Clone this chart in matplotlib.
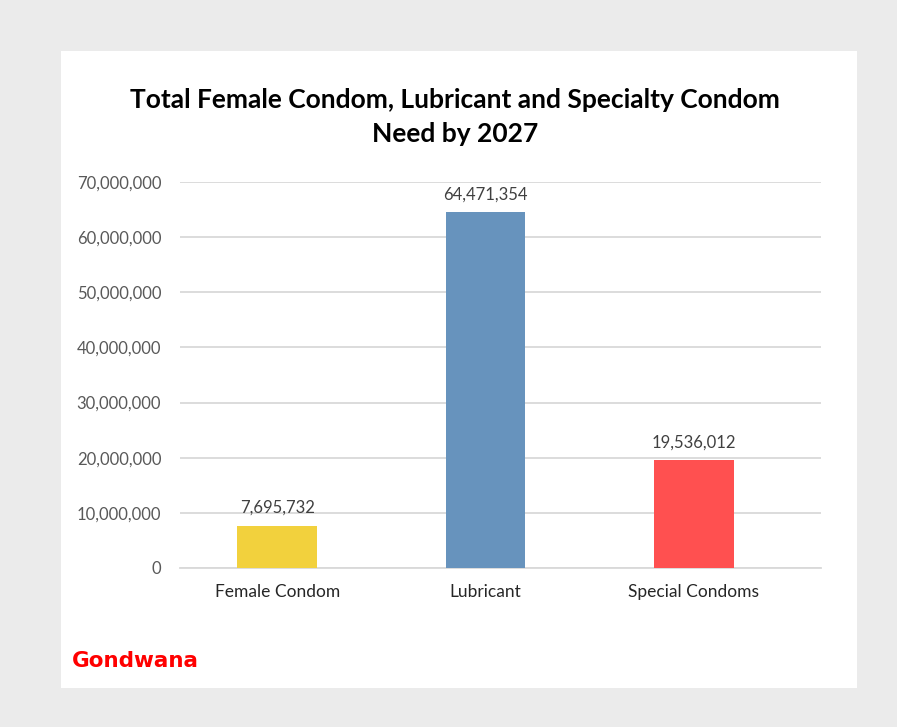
import matplotlib
matplotlib.use("Agg")
import matplotlib.pyplot as plt
from matplotlib.patches import Rectangle
from matplotlib.ticker import FuncFormatter, MultipleLocator

plt.rcParams["font.family"] = ["Lato", "DejaVu Sans"]

categories = ["Female Condom", "Lubricant", "Special Condoms"]
values = [7695732, 64471354, 19536012]
colors = ["#F2D13D", "#6793BD", "#FF5050"]

W, H = 897, 727
fig = plt.figure(figsize=(W / 100, H / 100), dpi=100)
fig.patch.set_facecolor("#EBEBEB")

# white card behind the chart
fig.patches.append(Rectangle((61 / W, 1 - 688 / H), (857 - 61) / W, (688 - 51) / H,
                             transform=fig.transFigure, facecolor="white",
                             edgecolor="none", zorder=-5))

ax = fig.add_axes([180 / W, 1 - 568 / H, 641 / W, (568 - 182) / H])
ax.set_facecolor("none")
ax.set_zorder(2)

x = range(len(categories))
bars = ax.bar(x, values, width=0.384, color=colors, zorder=3)

ax.set_xlim(-0.468, 2.612)
ax.set_ylim(0, 70_000_000)
ax.yaxis.set_major_locator(MultipleLocator(10_000_000))
ax.yaxis.set_major_formatter(FuncFormatter(lambda v, p: f"{int(v):,}"))
ax.grid(axis="y", color="#D9D9D9", linewidth=1.3, zorder=0)
for s in ["top", "right", "left"]:
    ax.spines[s].set_visible(False)
ax.spines["bottom"].set_color("#D9D9D9")
ax.spines["bottom"].set_linewidth(1.3)
ax.tick_params(axis="both", length=0)
ax.tick_params(axis="y", labelsize=12, labelcolor="#595959", pad=13.5)
ax.tick_params(axis="x", labelsize=12.5, labelcolor="#262626", pad=11.5)
ax.set_xticks(list(x))
ax.set_xticklabels(categories)

for b, v in zip(bars, values):
    ax.annotate(f"{v:,}", (b.get_x() + b.get_width() / 2, v),
                xytext=(0, 7), textcoords="offset points",
                ha="center", va="bottom", fontsize=12, color="#404040")

fig.text(455 / W, 1 - 117 / H, "Total Female Condom, Lubricant and Specialty Condom\nNeed by 2027",
         ha="center", va="center", fontsize=19, fontweight="bold",
         color="black", linespacing=1.45)

fig.text(72 / W, 1 - 661 / H, "Gondwana", ha="left", va="center",
         fontsize=15.5, fontweight="bold", color="#FF0000",
         family=["DejaVu Sans"])

fig.savefig("out.png", dpi=100, facecolor=fig.get_facecolor())
